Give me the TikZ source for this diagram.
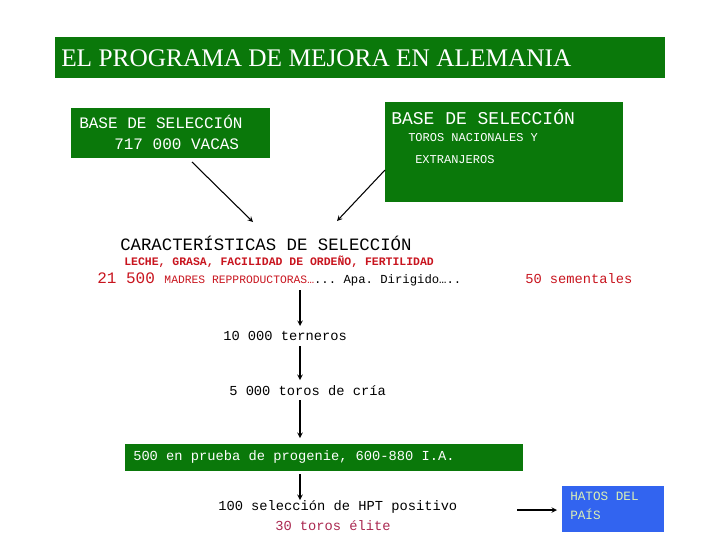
\documentclass[tikz,border=0pt]{standalone}
\usepackage{fontspec}
\setmainfont{Liberation Serif}
\setmonofont{Liberation Mono}
\begin{document}
\begin{tikzpicture}[x=0.75pt,y=-0.75pt,
  gbox/.style={fill=green!45!black,draw=none},
  tx/.style={font=\ttfamily\fontsize{12}{14}\selectfont,inner sep=0pt,anchor=west},
  arr/.style={->,>=stealth,thick}]
\definecolor{dg}{RGB}{10,120,10}
\definecolor{rd}{RGB}{200,20,30}
\definecolor{pk}{RGB}{170,40,80}
\definecolor{bl}{RGB}{50,100,240}
\definecolor{yl}{RGB}{220,240,180}
\useasboundingbox (0,0) rectangle (720,540);
\fill[dg] (55,37) rectangle (665,78);
\node[anchor=west,text=white,font=\fontsize{19}{22}\selectfont,inner sep=0pt] (title) at (61,58) {EL PROGRAMA DE MEJORA EN ALEMANIA};
\fill[dg] (71,108) rectangle (270,158);
\node[tx,text=white] (b1a) at (79,122) {BASE DE SELECCIÓN};
\node[tx,text=white] (b1b) at (114,144) {717 000 VACAS};
\coordinate (b1) at (192,162);
\fill[dg] (385,102) rectangle (623,202);
\node[tx,text=white,font=\ttfamily\fontsize{13.5}{15}\selectfont] (b2a) at (391,117) {BASE DE SELECCIÓN};
\node[tx,text=white,font=\ttfamily\fontsize{9}{10}\selectfont] (b2b) at (408,138) {TOROS NACIONALES Y};
\node[tx,text=white,font=\ttfamily\fontsize{9}{10}\selectfont] (b2c) at (415,160) {EXTRANJEROS};
\coordinate (b2) at (385,170);
\node[tx,font=\ttfamily\fontsize{13}{15}\selectfont] (car) at (120,243) {CARACTERÍSTICAS DE SELECCIÓN};
\coordinate (t1) at (253,222);
\coordinate (t2) at (337,221);
\draw[arr] (b1) -- (t1);
\draw[arr] (b2) -- (t2);
\node[tx,text=rd,font=\ttfamily\bfseries\fontsize{8.6}{10}\selectfont] (lg) at (124,262) {LECHE, GRASA, FACILIDAD DE ORDEÑO, FERTILIDAD};
\node[tx] (ma) at (97,279) {\textcolor{rd}{21 500 {\fontsize{8.5}{10}\selectfont MADRES REPPRODUCTORAS…}}{\fontsize{9.2}{10}\selectfont ... Apa. Dirigido…..}};
\node[tx,text=rd,font=\ttfamily\fontsize{10.3}{12}\selectfont] (se) at (525,279) {50 sementales};
\coordinate (s0) at (300,290);
\node[tx,font=\ttfamily\fontsize{10.3}{12}\selectfont] (n1) at (223,336) {10 000 terneros};
\node[tx,font=\ttfamily\fontsize{10.3}{12}\selectfont] (n2) at (229,391) {5 000 toros de cría};
\fill[dg] (125,444) rectangle (523,471);
\node[tx,text=white,font=\ttfamily\fontsize{10.3}{12}\selectfont] (n3) at (133,457) {500 en prueba de progenie, 600-880 I.A.};
\node[tx,font=\ttfamily\fontsize{10.3}{12}\selectfont] (n4) at (218,507) {100 selección de HPT positivo};
\node[tx,text=pk,font=\ttfamily\fontsize{10.3}{12}\selectfont] (n5) at (275,526) {30 toros élite};
\draw[arr] (s0) -- (300,326);
\draw[arr] (300,346) -- (300,380);
\draw[arr] (300,400) -- (300,438);
\draw[arr] (300,474) -- (300,500);
\fill[bl] (562,486) rectangle (664,532);
\node[tx,text=yl,font=\ttfamily\fontsize{9.5}{11}\selectfont,align=left,anchor=north west] (h) at (570,492) {HATOS DEL\\[3pt]PAÍS};
\draw[arr] (517,510) -- (557,510);
\end{tikzpicture}
\end{document}
